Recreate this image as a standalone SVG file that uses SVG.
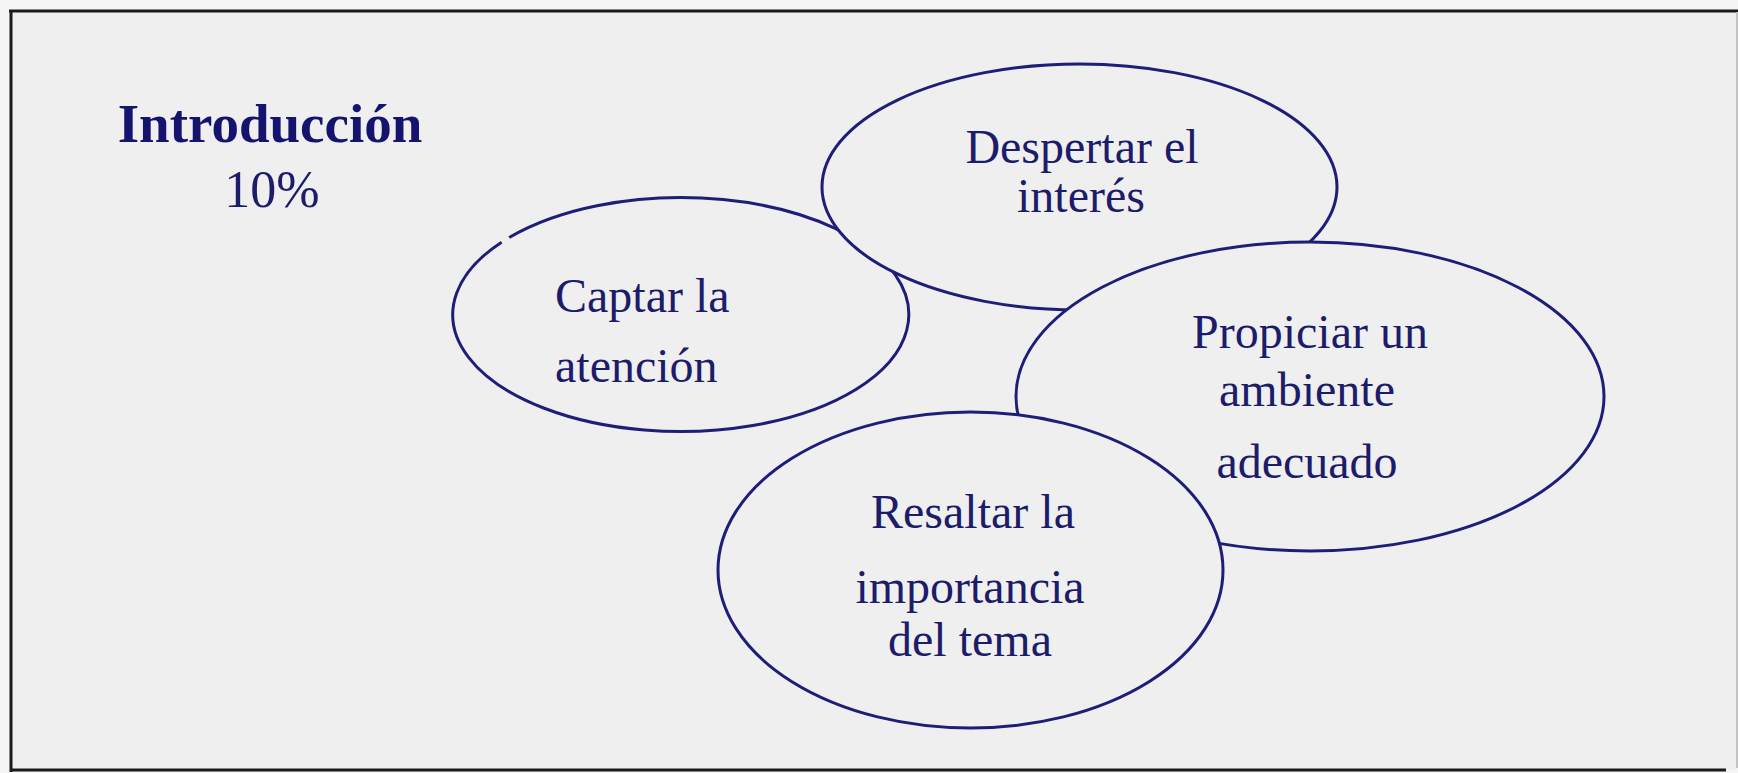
<svg xmlns="http://www.w3.org/2000/svg" width="1738" height="773" viewBox="0 0 1738 773">
  <style>
    .bubble { fill: #efefef; stroke: #1e1e78; stroke-width: 3; }
    .lbl { font-family: "Liberation Serif", "Times New Roman", serif; font-size: 48px; fill: #1c1c6a; }
    .mid { text-anchor: middle; }
    .title { font-family: "Liberation Serif", "Times New Roman", serif; font-size: 55px; font-weight: bold; fill: #14146e; text-anchor: middle; }
    .pct { font-family: "Liberation Serif", "Times New Roman", serif; font-size: 52px; fill: #1c1c6a; text-anchor: middle; }
    .frame { stroke: #1a1a1a; stroke-width: 3; fill: none; }
  </style>
  <rect x="0" y="0" width="1738" height="773" fill="#f5f5f5"/>
  <rect x="11" y="11" width="1726" height="759" fill="#efefef"/>
  <g id="frame">
    <line class="frame" x1="9" y1="11" x2="1738" y2="11"/>
    <line class="frame" x1="11" y1="10" x2="11" y2="772"/>
    <line class="frame" x1="10" y1="770" x2="1726" y2="770"/>
    <line x1="1737" y1="12" x2="1737" y2="768" stroke="#c4c4c4" stroke-width="2"/>
  </g>
  <g id="title">
    <text class="title" x="270" y="142">Introducción</text>
    <text class="pct" x="272" y="207">10%</text>
  </g>
  <g id="connectors"></g>
  <g id="captar">
    <path class="bubble" d="M 509.2 237.5 A 228 117 0 1 1 501.6 242.2"/>
    <text class="lbl" x="555" y="312">Captar la</text>
    <text class="lbl" x="555" y="382">atención</text>
  </g>
  <g id="despertar">
    <ellipse class="bubble" cx="1079.5" cy="187" rx="257.5" ry="123"/>
    <text class="lbl mid" x="1082" y="163">Despertar el</text>
    <text class="lbl mid" x="1081" y="212">interés</text>
  </g>
  <g id="propiciar">
    <ellipse class="bubble" cx="1310" cy="396.5" rx="294" ry="154.5"/>
    <text class="lbl mid" x="1310" y="348">Propiciar un</text>
    <text class="lbl mid" x="1307" y="406">ambiente</text>
    <text class="lbl mid" x="1307" y="478">adecuado</text>
  </g>
  <g id="resaltar">
    <ellipse class="bubble" cx="970.5" cy="570" rx="252.5" ry="158"/>
    <text class="lbl mid" x="973" y="528">Resaltar la</text>
    <text class="lbl mid" x="970" y="603">importancia</text>
    <text class="lbl mid" x="970" y="656">del tema</text>
  </g>
</svg>
